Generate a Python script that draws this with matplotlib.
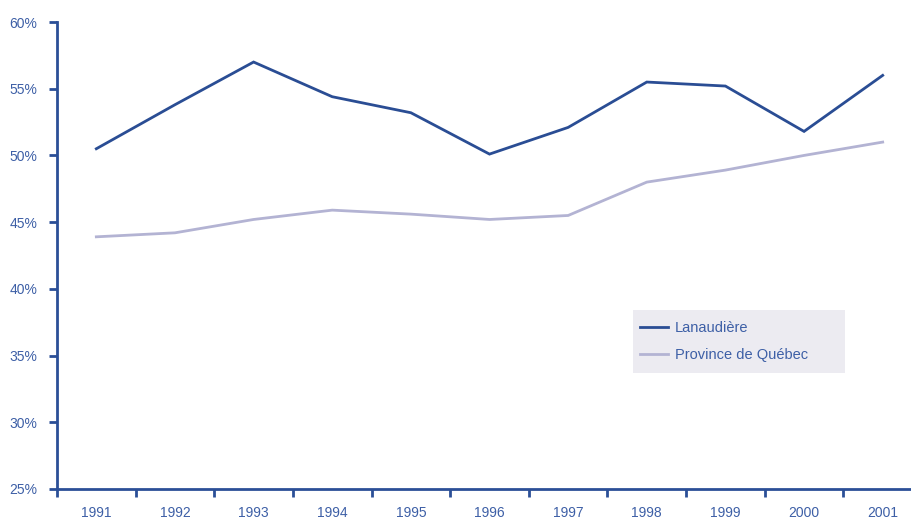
import matplotlib
matplotlib.use("Agg")
import matplotlib.pyplot as plt
from matplotlib.patches import Rectangle
import numpy as np

years = ["1991", "1992", "1993", "1994", "1995", "1996", "1997", "1998", "1999", "2000", "2001"]
lanaudiere = [50.5, 53.8, 57.0, 54.4, 53.2, 50.1, 52.1, 55.5, 55.2, 51.8, 56.0]
quebec = [43.9, 44.2, 45.2, 45.9, 45.6, 45.2, 45.5, 48.0, 48.9, 50.0, 51.0]
yticks = [25, 30, 35, 40, 45, 50, 55, 60]

plt.rcParams['font.family'] = ['Liberation Sans', 'DejaVu Sans']

axis_c = "#2b4f97"
text_c = "#3d5fa6"
c1 = "#2a4d94"
c2 = "#b3b3d3"

W, H = 911, 520
fig = plt.figure(figsize=(W/100, H/100), dpi=100)
ax = fig.add_axes([57/W, 31/H, 854/W, 467/H])
x = np.arange(len(years))
ax.plot(x, lanaudiere, color=c1, lw=2.0, label="Lanaudière", solid_joinstyle='miter')
ax.plot(x, quebec, color=c2, lw=2.0, label="Province de Québec", solid_joinstyle='miter')

ax.set_ylim(25, 60)
ax.set_xlim(-0.5, 10.36)
ax.set_yticks(yticks)
ax.set_yticklabels([f"{v}%" for v in yticks])
ax.set_xticks(np.arange(-0.5, 10, 1.0))
ax.set_xticklabels([])
ax.set_xticks(x, minor=True)
ax.set_xticklabels(years, minor=True)
ax.tick_params(axis='x', which='minor', length=0, pad=12.5, labelsize=10, labelcolor=text_c)
ax.tick_params(axis='x', which='major', length=6, width=2, color=axis_c, direction='out')
ax.tick_params(axis='y', length=6, width=2, color=axis_c, labelsize=10, labelcolor=text_c, pad=8)
for s in ['top', 'right']:
    ax.spines[s].set_visible(False)
for s in ['left', 'bottom']:
    ax.spines[s].set_color(axis_c)
    ax.spines[s].set_linewidth(2)

# legend background box
fig.patches.append(Rectangle((633/W, 1 - 373/H), 212/W, 63/H, transform=fig.transFigure,
                             facecolor="#ecebf1", edgecolor="none", zorder=1))
leg = fig.legend(loc='upper left', bbox_to_anchor=(636/W, 1 - 317/H), frameon=False,
                 handlelength=1.9, handletextpad=0.45, fontsize=10.5,
                 borderpad=0.3, labelspacing=0.85, borderaxespad=0)
for t in leg.get_texts():
    t.set_color(text_c)

fig.savefig("out.png", dpi=100)
